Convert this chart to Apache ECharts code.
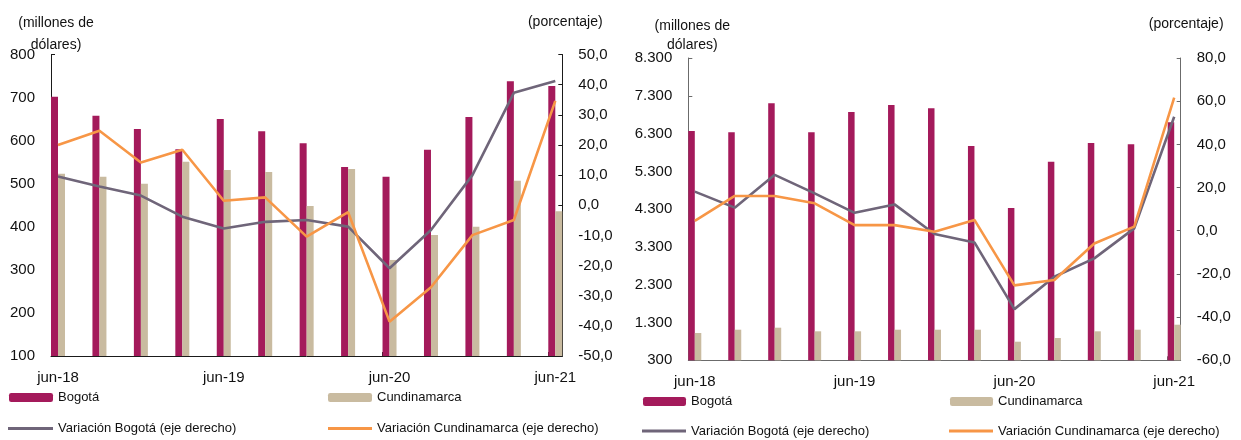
<!DOCTYPE html>
<html>
<head>
<meta charset="utf-8">
<script src="https://cdn.jsdelivr.net/npm/echarts@6/dist/echarts.min.js"></script>
<style>
html,body{margin:0;padding:0;background:#fff;}
#c{width:1241px;height:440px;}
</style>
</head>
<body>
<div id="c"></div>
<script>
// ---- data ----
const categories = ['jun-18','sep-18','dic-18','mar-19','jun-19','sep-19','dic-19','mar-20','jun-20','sep-20','dic-20','mar-21','jun-21'];
const labelIdx = [0, 4, 8, 12];

// Left panel (millones de dólares / porcentaje)
const bogotaL   = [702, 658, 627, 580, 650, 622, 594, 539, 516, 579, 655, 738, 727];
const cundL     = [523, 516, 500, 551, 532, 527, 448, 534, 323, 381, 400, 507, 436];
const varBogL   = [9.5, 6.2, 3.2, -3.8, -7.7, -5.5, -4.9, -7.1, -20.9, -8.2, 10.0, 37.3, 41.2];
const varCundL  = [20.0, 24.7, 14.2, 18.4, 1.5, 2.6, -10.4, -2.3, -38.6, -27.2, -9.9, -4.9, 34.6];

// Right panel
const bogotaR   = [6368, 6333, 7101, 6333, 6871, 7056, 6968, 5971, 4330, 5556, 6050, 6016, 6598];
const cundR     = [1022, 1110, 1163, 1067, 1067, 1110, 1110, 1110, 792, 890, 1067, 1110, 1242];
const varBogR   = [18.1, 10.7, 25.9, 17.3, 8.3, 12.2, -1.5, -5.4, -36.3, -21.3, -12.8, 1.1, 52.8];
const varCundR  = [4.6, 16.1, 16.1, 12.7, 2.6, 2.6, -0.5, 5.0, -25.3, -22.8, -5.9, 1.9, 61.6];

const names = ['Bogotá', 'Cundinamarca', 'Variación Bogotá (eje derecho)', 'Variación Cundinamarca (eje derecho)'];

// ---- styles ----
const FONT = 'Liberation Sans, Arial, sans-serif';
const TXT = '#111';
const C_BOG = '#A41A5B';
const C_CUN = '#C9BBA0';
const C_VB = '#6F6579';
const C_VC = '#F79646';

const pts = arr => arr.map((v, i) => [i, v]);
const fmtPct = v => (Math.abs(v) < 1e-9 ? 0 : v).toFixed(1).replace('.', ',');
const fmtThousands = v => String(v).replace(/\B(?=(\d{3})+(?!\d))/g, '.');

function xAxisFor(gridIndex, half, axisColor) {
  return {
    type: 'value', gridIndex: gridIndex,
    min: -half, max: 12 + half,
    splitLine: {show: false},
    axisLine: {onZero: false, lineStyle: {color: axisColor, width: 1}},
    axisTick: {show: true, inside: true, length: 4, customValues: labelIdx.map(v => v - half), lineStyle: {color: axisColor}},
    axisLabel: {customValues: labelIdx, formatter: v => categories[Math.round(v)], fontSize: 15, color: TXT, fontFamily: FONT, margin: 14}
  };
}
function yAxisFor(gridIndex, pos, min, max, interval, fmt, axisColor, name, nameGap, lineHeight, padLeft) {
  return {
    type: 'value', gridIndex: gridIndex, position: pos,
    min: min, max: max, interval: interval,
    name: name, nameLocation: 'end', nameGap: nameGap, nameMoveOverlap: false,
    nameTextStyle: {fontSize: 14, color: TXT, fontFamily: FONT, lineHeight: lineHeight, align: 'center', padding: [0, 0, 0, padLeft]},
    splitLine: {show: false},
    axisLine: {show: true, onZero: false, lineStyle: {color: axisColor, width: 1}},
    axisTick: {show: true, inside: true, length: 4, lineStyle: {color: axisColor}},
    axisLabel: {formatter: fmt, fontSize: 15, color: TXT, fontFamily: FONT, margin: 16}
  };
}
function legendAt(name, left, top, w, isLine) {
  return {
    data: [isLine ? {name: name, icon: 'rect'} : name],
    left: left, top: top, padding: 0, itemGap: 0,
    itemWidth: w, itemHeight: isLine ? 3 : 9, selectedMode: false,
    textStyle: {fontSize: 13, color: TXT, fontFamily: FONT}
  };
}

const HALF_L = 7 / 41.44;
const HALF_R = 6.5 / 39.95;

function seriesFor(xi, yL, yR, bog, cun, vb, vc, bw) {
  return [
    {name: names[0], type: 'bar', xAxisIndex: xi, yAxisIndex: yL, data: pts(bog), barWidth: bw, barGap: '0%', itemStyle: {color: C_BOG}},
    {name: names[1], type: 'bar', xAxisIndex: xi, yAxisIndex: yL, data: pts(cun), barWidth: bw, barGap: '0%', itemStyle: {color: C_CUN}},
    {name: names[2], type: 'line', xAxisIndex: xi, yAxisIndex: yR, data: pts(vb), symbol: 'none', lineStyle: {color: C_VB, width: 2.6}, itemStyle: {color: C_VB}, z: 3},
    {name: names[3], type: 'line', xAxisIndex: xi, yAxisIndex: yR, data: pts(vc), symbol: 'none', lineStyle: {color: C_VC, width: 2.6}, itemStyle: {color: C_VC}, z: 4}
  ];
}

const option = {
  animation: false,
  backgroundColor: '#fff',
  textStyle: {fontFamily: FONT},
  grid: [
    {left: 51, top: 54.5, right: 1241 - 562.3, bottom: 440 - 356, containLabel: false, outerBoundsMode: 'none'},
    {left: 688.3, top: 58, right: 1241 - 1180.7, bottom: 440 - 360.3, containLabel: false, outerBoundsMode: 'none'}
  ],
  xAxis: [
    xAxisFor(0, HALF_L, '#1a1a1a'),
    xAxisFor(1, HALF_R, '#6b6b6b')
  ],
  yAxis: [
    yAxisFor(0, 'left', 100, 800, 100, v => String(v), '#1a1a1a', '(millones de\ndólares)', -1.5, 22, 10),
    yAxisFor(0, 'right', -50, 50, 10, fmtPct, '#1a1a1a', '(porcentaje)', 21, 22, 6),
    yAxisFor(1, 'left', 300, 8300, 1000, fmtThousands, '#6b6b6b', '(millones de\ndólares)', 3, 19, 8),
    yAxisFor(1, 'right', -60, 80, 20, fmtPct, '#6b6b6b', '(porcentaje)', 24, 19, 11)
  ],
  legend: [
    legendAt(names[0], 9, 391, 44, false),
    legendAt(names[1], 328, 391, 44, false),
    legendAt(names[2], 8, 422, 45, true),
    legendAt(names[3], 328, 422, 44, true),
    legendAt(names[0], 643, 395, 43, false),
    legendAt(names[1], 950, 395, 43, false),
    legendAt(names[2], 642, 424.5, 44, true),
    legendAt(names[3], 949, 424.5, 44, true)
  ],
  series: [].concat(
    seriesFor(0, 0, 1, bogotaL, cundL, varBogL, varCundL, 7),
    seriesFor(1, 2, 3, bogotaR, cundR, varBogR, varCundR, 6.5)
  )
};

const chart = echarts.init(document.getElementById('c'), null, {renderer: 'canvas'});
chart.setOption(option);
</script>
</body>
</html>
